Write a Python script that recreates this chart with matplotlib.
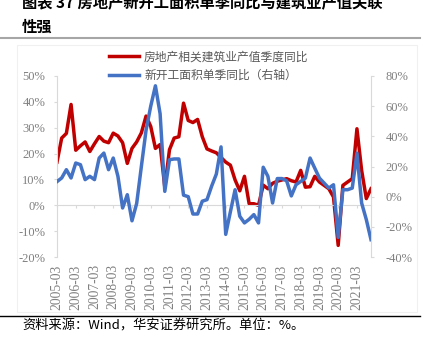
import matplotlib
matplotlib.use('Agg')
import matplotlib.pyplot as plt
from matplotlib.lines import Line2D
from matplotlib.patches import Rectangle

# 季度数据 2005-03 ... 2021-12
red_vals = [16.7, 26.0, 27.8, 39.0, 21.3, 23.0, 24.5, 20.8, 23.8, 26.6,
            24.8, 24.2, 27.9, 26.8, 24.2, 16.2, 22.0, 24.5, 28.0, 34.5,
            30.5, 22.0, 23.5, 7.0, 21.5, 26.0, 26.5, 39.5, 32.8, 32.0,
            33.2, 26.5, 21.8, 21.0, 20.3, 18.5, 16.7, 15.5, 9.8, 5.6,
            11.2, 0.6, 0.6, 0.0, 7.8, 6.4, 8.5, 9.3, 9.8, 10.3,
            9.5, 9.0, 13.5, 7.0, 7.2, 11.2, 9.0, 7.7, 6.4, 3.2,
            -15.5, 7.7, 9.0, 10.3, 29.6, 13.5, 2.6, 6.4]
blue_vals = [10.0, 12.4, 17.9, 12.4, 22.3, 21.2, 11.3, 13.5, 11.3, 25.6,
             28.9, 17.9, 25.6, 13.5, -7.5, 1.3, -16.0, -4.5, 20.0, 44.0,
             60.0, 73.5, 55.0, 3.5, 24.5, 25.0, 25.0, 1.0, 0.0, -11.5,
             -11.5, -3.0, -2.0, 7.0, 15.0, 33.0, -25.0, -10.0, 4.6, -13.0,
             -17.4, -15.0, -11.9, -17.4, 19.5, 13.5, -4.2, 12.0, 12.0, 10.5,
             0.5, 7.9, 10.1, 12.3, 25.6, 18.9, 12.3, 9.0, 5.7, 7.9,
             -27.0, 4.6, 4.6, 5.7, 28.9, -4.2, -15.2, -28.5]
year_labels = ['2005-03', '2006-03', '2007-03', '2008-03', '2009-03', '2010-03',
               '2011-03', '2012-03', '2013-03', '2014-03', '2015-03', '2016-03',
               '2017-03', '2018-03', '2019-03', '2020-03', '2021-03']
red_name = '房地产相关建筑业产值季度同比'
blue_name = '新开工面积单季同比（右轴）'

cjk = ['Noto Sans CJK SC', 'DejaVu Sans']
serif = 'Liberation Serif'
grey_txt = '#808080'
axis_col = '#d9d9d9'

fig = plt.figure(figsize=(4.25, 3.54), dpi=100)
ax = fig.add_axes([57/425, 1-257/354, (371-57)/425, (257-76)/354])
ax2 = ax.twinx()

xs = list(range(len(red_vals)))
l1, = ax.plot(xs, red_vals, color='#C00000', lw=2.5)
l2, = ax2.plot(xs, blue_vals, color='#4472C4', lw=2.5)

ax.set_xlim(0, len(xs) - 1)
ax.set_ylim(-20, 50)
ax2.set_ylim(-40, 80)
ax.set_yticks(range(-20, 51, 10))
ax2.set_yticks(range(-40, 81, 20))
ax.set_yticklabels([f'{v}%' for v in range(-20, 51, 10)])
ax2.set_yticklabels([f'{v}%' for v in range(-40, 81, 20)])

ax.set_xticks(range(0, len(xs), 4))
ax.set_xticklabels(year_labels)
ax.spines['bottom'].set_position(('data', 0))
for s in ['top', 'right']:
    ax.spines[s].set_visible(False)
for s in ['top', 'left', 'bottom']:
    ax2.spines[s].set_visible(False)
ax.spines['left'].set_color(axis_col)
ax.spines['bottom'].set_color(axis_col)
ax2.spines['right'].set_color(axis_col)

ax.tick_params(axis='x', length=2.5, color=axis_col, pad=40, labelsize=9.8,
               labelcolor=grey_txt, labelrotation=90)
ax.tick_params(axis='y', length=2.5, color=axis_col, pad=6, labelsize=9, labelcolor=grey_txt)
ax2.tick_params(axis='y', length=2.5, color=axis_col, pad=8, labelsize=9, labelcolor=grey_txt)
for lab in ax.get_xticklabels() + ax.get_yticklabels() + ax2.get_yticklabels():
    lab.set_fontfamily(serif)

fig.legend([l1, l2], [red_name, blue_name], loc='upper left',
           bbox_to_anchor=(98/425, 1-40/354), frameon=False,
           prop={'family': cjk, 'size': 8.5}, handlelength=2.6,
           labelspacing=0.45, handletextpad=0.4, labelcolor='#595959')

# 标题、分隔线与资料来源
fig.text(22/425, 1-3/354, '图表 37 房地产新开工面积单季同比与建筑业产值关联',
         fontsize=11, fontweight='bold', family=cjk, va='center', ha='left')
fig.text(22/425, 1-27/354, '性强', fontsize=11, fontweight='bold',
         family=cjk, va='center', ha='left')
fig.add_artist(Line2D([0, 420/425], [1-38/354, 1-38/354], color='#a6a6a6',
                      lw=1.5, transform=fig.transFigure))
fig.add_artist(Rectangle((17/425, 1-312/354), 400/425, (312-45)/354,
                         fill=False, edgecolor='#f0f0f0', lw=0.8,
                         transform=fig.transFigure))
fig.add_artist(Line2D([0, 420/425], [1-316/354, 1-316/354], color='black',
                      lw=1.0, transform=fig.transFigure))
fig.text(22/425, 1-326/354, '资料来源：Wind，华安证券研究所。单位：%。',
         fontsize=9.5, family=cjk, va='center', ha='left')

fig.savefig('out.png', dpi=100)
